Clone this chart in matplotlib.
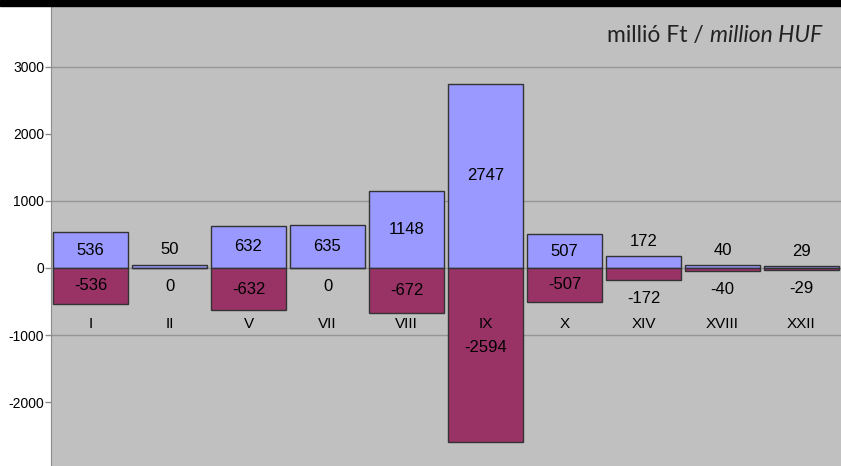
import matplotlib.pyplot as plt
from matplotlib.transforms import offset_copy

# district figures, million HUF
districts = ["I", "II", "V", "VII", "VIII", "IX", "X", "XIV", "XVIII", "XXII"]
inflow = [536, 50, 632, 635, 1148, 2747, 507, 172, 40, 29]
outflow = [-536, 0, -632, 0, -672, -2594, -507, -172, -40, -29]
yticks = [-2000, -1000, 0, 1000, 2000, 3000]
gridlines = [-1000, 1000, 3000]

pos_color = "#9999ff"
neg_color = "#993366"
bg_color = "#c0c0c0"

fig = plt.figure(figsize=(8.41, 4.66), dpi=100)
fig.patch.set_facecolor("white")
# thin black band along the top edge
fig.add_artist(plt.Rectangle((0, 1 - 6 / 466), 1, 6 / 466, transform=fig.transFigure,
                             color="black", zorder=10))

ax = fig.add_axes([51 / 841, 0, 790 / 841, 460 / 466])
ax.set_facecolor(bg_color)
ax.set_xlim(-0.5, len(districts) - 0.5)
ax.set_ylim(-2955, 3910)

for g in gridlines + [0]:
    ax.axhline(g, color="#969696", lw=1, zorder=0)

x = range(len(districts))
ax.bar(x, inflow, width=0.95, color=pos_color, edgecolor="#333333", linewidth=1, zorder=2)
ax.bar(x, outflow, width=0.95, color=neg_color, edgecolor="#333333", linewidth=1, zorder=2)

font = "Liberation Sans"
above = offset_copy(ax.transData, fig=fig, y=15, units="dots")
below = offset_copy(ax.transData, fig=fig, y=-19, units="dots")

for i, (p, n) in enumerate(zip(inflow, outflow)):
    if p >= 300:
        ax.text(i, p / 2, str(p), ha="center", va="center", fontsize=12, family=font, zorder=3)
    else:
        ax.text(i, p, str(p), transform=above, ha="center", va="center", fontsize=12,
                family=font, zorder=3)
    if n <= -300:
        ax.text(i, max(n / 2, -1180), str(n), ha="center", va="center", fontsize=12,
                family=font, zorder=3)
    else:
        ax.text(i, n, str(n), transform=below, ha="center", va="center", fontsize=12,
                family=font, zorder=3)
    # district name sits in a row inside the plot
    ax.text(i, -830, districts[i], ha="center", va="center", fontsize=11, family=font, zorder=3)

ax.set_xticks([])
ax.set_yticks(yticks)
ax.set_yticklabels([str(t) for t in yticks], family=font, fontsize=10)
ax.tick_params(axis="y", length=4, width=1, color="#8c8c8c", pad=1)
for side in ["top", "right", "bottom"]:
    ax.spines[side].set_visible(False)
ax.spines["left"].set_color("#8c8c8c")

# unit caption, upright Hungarian part followed by italic English part
unit_en = ax.text(0.976, 0.935, "million HUF", transform=ax.transAxes, ha="right", va="center",
                  fontsize=16.5, family="Lato", style="italic", color="#222222")
ax.annotate("millió Ft / ", xy=(0, 0.5), xycoords=unit_en, ha="right", va="center",
            fontsize=16.5, family="Lato", color="#222222")

fig.savefig("out.png", dpi=100, facecolor=fig.get_facecolor())
